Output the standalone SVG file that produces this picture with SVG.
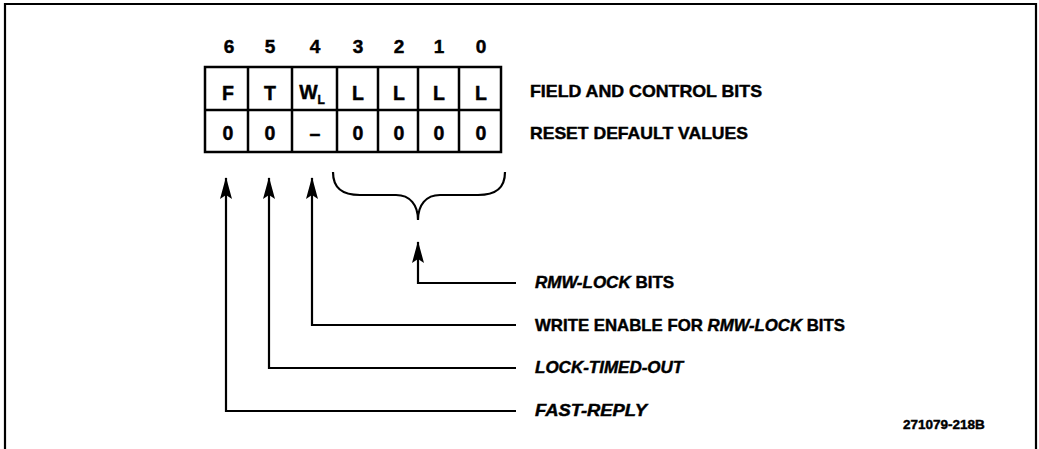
<svg xmlns="http://www.w3.org/2000/svg" width="1039" height="449" viewBox="0 0 1039 449">
<style>
  .frame{fill:none;stroke:#000;stroke-width:2.2}
  .cell{fill:#fff;stroke:#000;stroke-width:2.5}
  .grid{stroke:#000;stroke-width:2.5;fill:none}
  .t{font-family:"Liberation Sans",Arial,sans-serif;font-weight:bold;fill:#000;stroke:#000;stroke-width:0.45}
  .num{font-size:19px;text-anchor:middle}
  .cel{font-size:19.5px;text-anchor:middle}
  .lab{font-size:17px}
  .it{font-style:italic}
  .conn{fill:none;stroke:#000;stroke-width:2.2}
</style>
<defs>
  <marker id="ah" viewBox="0 0 22 12" refX="21" refY="6" markerWidth="22" markerHeight="12" markerUnits="userSpaceOnUse" orient="auto">
    <path d="M0,0 L22,6 L0,12 L4,6 Z" fill="#000"/>
  </marker>
</defs>
<rect width="1039" height="449" fill="#fff"/>
<path class="frame" d="M5,449 L5,4 L1036,4 L1036,449"/>

<g id="register">
  <rect class="cell" x="205" y="67" width="296" height="85"/>
  <path class="grid" d="M205,110 H501 M248,67 V152 M292,67 V152 M337,67 V152 M378,67 V152 M418,67 V152 M459,67 V152"/>
  <g class="t num">
    <text x="229" y="53">6</text>
    <text x="270" y="53">5</text>
    <text x="315" y="53">4</text>
    <text x="358" y="53">3</text>
    <text x="399" y="53">2</text>
    <text x="439" y="53">1</text>
    <text x="481" y="53">0</text>
  </g>
  <g class="t cel">
    <text x="228" y="100">F</text>
    <text x="270" y="100">T</text>
    <text x="312" y="99">W<tspan font-size="12" dy="5">L</tspan></text>
    <text x="358" y="100">L</text>
    <text x="399" y="100">L</text>
    <text x="439" y="100">L</text>
    <text x="481" y="100">L</text>
    <text x="228" y="140">0</text>
    <text x="270" y="140">0</text>
    <text x="315" y="140">–</text>
    <text x="358" y="140">0</text>
    <text x="399" y="140">0</text>
    <text x="439" y="140">0</text>
    <text x="481" y="140">0</text>
  </g>
</g>

<g id="row-labels" class="t lab">
  <text x="530" y="97" textLength="232" lengthAdjust="spacingAndGlyphs">FIELD AND CONTROL BITS</text>
  <text x="530" y="139" textLength="218" lengthAdjust="spacingAndGlyphs">RESET DEFAULT VALUES</text>
</g>

<g id="brace">
  <path class="conn" d="M333,172 C333,189 343,195 360,195 L396,195 C410,195 418,205 418,220 C418,205 426,195 440,195 L478,195 C495,195 505,189 505,172"/>
</g>

<g id="connectors">
  <path class="conn" d="M516,411 H226 V178" marker-end="url(#ah)"/>
  <path class="conn" d="M516,368 H269 V178" marker-end="url(#ah)"/>
  <path class="conn" d="M516,325 H312 V178" marker-end="url(#ah)"/>
  <path class="conn" d="M516,283 H418 V242" marker-end="url(#ah)"/>
</g>

<g id="label-rmw" class="t lab"><text x="535" y="288"><tspan class="it">RMW-LOCK</tspan> BITS</text></g>
<g id="label-we" class="t lab"><text x="535" y="331" textLength="310" lengthAdjust="spacingAndGlyphs">WRITE ENABLE FOR <tspan class="it">RMW-LOCK</tspan> BITS</text></g>
<g id="label-lto" class="t lab"><text x="535" y="373" class="it">LOCK-TIMED-OUT</text></g>
<g id="label-fr" class="t lab"><text x="535" y="416" class="it" textLength="112" lengthAdjust="spacingAndGlyphs">FAST-REPLY</text></g>
<g id="fig-id" class="t"><text x="903" y="429" font-size="13.5">271079-218B</text></g>
</svg>
